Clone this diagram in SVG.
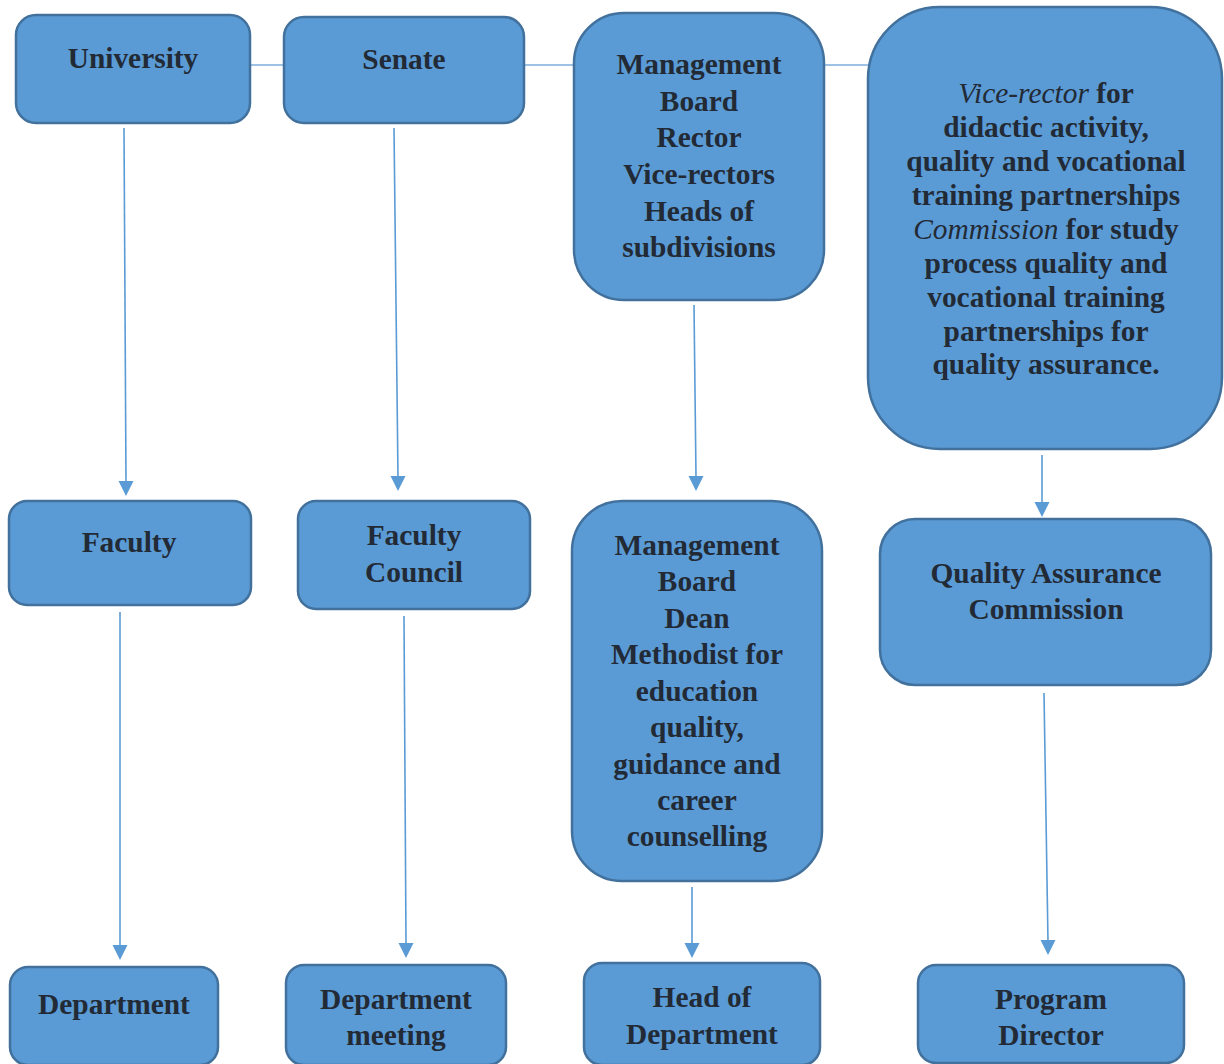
<svg xmlns="http://www.w3.org/2000/svg" width="1224" height="1064" viewBox="0 0 1224 1064">
<style>
.box{fill:#5b9bd5;stroke:#41719c;stroke-width:2.5}
text{font-family:"Liberation Serif","Times New Roman",serif;font-weight:bold;font-size:29.4px;fill:#222a35;text-anchor:middle}
.it{font-style:italic;font-weight:normal}
.arr{stroke:#5b9bd5;stroke-width:1.6;fill:none}
.h{stroke:#7eaedd;stroke-width:1.5;fill:none}
.hd{fill:#5b9bd5}
</style>
<g id="connectors">
<line class="h" x1="250" y1="65" x2="284" y2="65"/>
<line class="h" x1="524" y1="65" x2="574" y2="65"/>
<line class="h" x1="824" y1="65" x2="868" y2="65"/>
<path class="arr" d="M124,128 L126,482"/>
<polygon class="hd" points="118.5,481 133.5,481 126,496"/>
<path class="arr" d="M394,128 L398,477"/>
<polygon class="hd" points="390.5,476 405.5,476 398,491"/>
<path class="arr" d="M694,305 L696,477"/>
<polygon class="hd" points="688.5,476 703.5,476 696,491"/>
<path class="arr" d="M1042,455 L1042,503"/>
<polygon class="hd" points="1034.5,502 1049.5,502 1042,517"/>
<path class="arr" d="M120,612 L120,946"/>
<polygon class="hd" points="112.5,945 127.5,945 120,960"/>
<path class="arr" d="M404,616 L406,944"/>
<polygon class="hd" points="398.5,943 413.5,943 406,958"/>
<path class="arr" d="M692,887 L692,944"/>
<polygon class="hd" points="684.5,943 699.5,943 692,958"/>
<path class="arr" d="M1044,693 L1048,941"/>
<polygon class="hd" points="1040.5,940 1055.5,940 1048,955"/>
</g>
<g id="university">
<rect class="box" x="16" y="15" width="234" height="108" rx="20"/>
<text x="133" y="68">University</text>
</g>
<g id="senate">
<rect class="box" x="284" y="17" width="240" height="106" rx="20"/>
<text x="404" y="69">Senate</text>
</g>
<g id="mgmt-board-univ">
<rect class="box" x="574" y="13" width="250" height="287" rx="50"/>
<text x="699" y="74">Management</text>
<text x="699" y="111">Board</text>
<text x="699" y="147">Rector</text>
<text x="699" y="184">Vice-rectors</text>
<text x="699" y="221">Heads of</text>
<text x="699" y="257">subdivisions</text>
</g>
<g id="vice-rector">
<rect class="box" x="868" y="7" width="354" height="442" rx="72"/>
<text x="1046" y="103"><tspan class="it">Vice-rector</tspan> for</text>
<text x="1046" y="137">didactic activity,</text>
<text x="1046" y="171">quality and vocational</text>
<text x="1046" y="205">training partnerships</text>
<text x="1046" y="239"><tspan class="it">Commission</tspan> for study</text>
<text x="1046" y="273">process quality and</text>
<text x="1046" y="307">vocational training</text>
<text x="1046" y="341">partnerships for</text>
<text x="1046" y="374">quality assurance.</text>
</g>
<g id="faculty">
<rect class="box" x="9" y="501" width="242" height="104" rx="18"/>
<text x="129" y="552">Faculty</text>
</g>
<g id="faculty-council">
<rect class="box" x="298" y="501" width="232" height="108" rx="18"/>
<text x="414" y="545">Faculty</text>
<text x="414" y="582">Council</text>
</g>
<g id="mgmt-board-faculty">
<rect class="box" x="572" y="501" width="250" height="380" rx="50"/>
<text x="697" y="555">Management</text>
<text x="697" y="591">Board</text>
<text x="697" y="628">Dean</text>
<text x="697" y="664">Methodist for</text>
<text x="697" y="701">education</text>
<text x="697" y="737">quality,</text>
<text x="697" y="774">guidance and</text>
<text x="697" y="810">career</text>
<text x="697" y="846">counselling</text>
</g>
<g id="qac">
<rect class="box" x="880" y="519" width="331" height="166" rx="35"/>
<text x="1046" y="583">Quality Assurance</text>
<text x="1046" y="619">Commission</text>
</g>
<g id="department">
<rect class="box" x="10" y="967" width="208" height="98" rx="18"/>
<text x="114" y="1014">Department</text>
</g>
<g id="department-meeting">
<rect class="box" x="286" y="965" width="220" height="100" rx="18"/>
<text x="396" y="1009">Department</text>
<text x="396" y="1045">meeting</text>
</g>
<g id="head-of-department">
<rect class="box" x="584" y="963" width="236" height="102" rx="18"/>
<text x="702" y="1007">Head of</text>
<text x="702" y="1044">Department</text>
</g>
<g id="program-director">
<rect class="box" x="918" y="965" width="266" height="98" rx="18"/>
<text x="1051" y="1009">Program</text>
<text x="1051" y="1045">Director</text>
</g>
</svg>
